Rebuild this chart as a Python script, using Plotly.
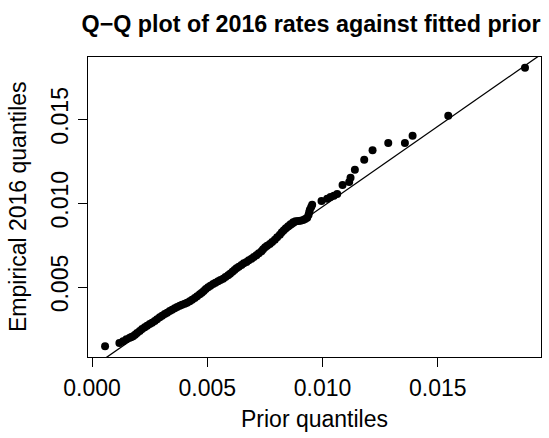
import plotly.graph_objects as go

# Prior (theoretical) quantiles
prior_q = [
    0.000566, 0.001188, 0.001347, 0.001492, 0.001636, 0.001709,
    0.001781, 0.001868, 0.001955, 0.002070, 0.002172, 0.002287, 0.002389,
    0.002504, 0.002606, 0.002721, 0.002823, 0.002938, 0.003040, 0.003155,
    0.003257, 0.003372, 0.003474, 0.003589, 0.003691, 0.003806, 0.003908,
    0.004023, 0.004125, 0.004240, 0.004342, 0.004457, 0.004559, 0.004674,
    0.004761, 0.004848, 0.004935, 0.005036, 0.005137, 0.005253, 0.005354,
    0.005470, 0.005572, 0.005687, 0.005789, 0.005904, 0.005991, 0.006092,
    0.006179, 0.006266, 0.006367, 0.006483, 0.006584, 0.006700, 0.006801,
    0.006917, 0.007018, 0.007134, 0.007235, 0.007351, 0.007423, 0.007510,
    0.007597, 0.007713, 0.007814, 0.007930, 0.008031, 0.008147, 0.008234,
    0.008320, 0.008407, 0.008508, 0.008610, 0.008725, 0.008827, 0.008942,
    0.009044, 0.009159, 0.009246, 0.009333, 0.009391, 0.009420, 0.009449,
    0.009507, 0.009550,
    0.009955, 0.010201, 0.010346, 0.010491, 0.010635, 0.010867, 0.011156,
    0.011214, 0.011402, 0.011807, 0.012169, 0.012849, 0.013572, 0.013905,
    0.015453, 0.018780,
]

# Empirical 2016 quantiles
empirical_q = [
    0.001464, 0.001663, 0.001762, 0.001881, 0.001981, 0.002020,
    0.002060, 0.002160, 0.002259, 0.002378, 0.002497, 0.002597, 0.002696,
    0.002796, 0.002875, 0.002975, 0.003074, 0.003193, 0.003293, 0.003392,
    0.003471, 0.003571, 0.003650, 0.003730, 0.003809, 0.003889, 0.003949,
    0.004008, 0.004068, 0.004147, 0.004247, 0.004346, 0.004445, 0.004565,
    0.004664, 0.004763, 0.004883, 0.004982, 0.005082, 0.005181, 0.005260,
    0.005340, 0.005419, 0.005499, 0.005598, 0.005698, 0.005797, 0.005916,
    0.006016, 0.006115, 0.006214, 0.006314, 0.006413, 0.006493, 0.006592,
    0.006692, 0.006791, 0.006890, 0.007010, 0.007129, 0.007248, 0.007367,
    0.007467, 0.007566, 0.007685, 0.007825, 0.007964, 0.008123, 0.008262,
    0.008381, 0.008500, 0.008620, 0.008739, 0.008858, 0.008918, 0.008938,
    0.008957, 0.008997, 0.009057, 0.009136, 0.009295, 0.009454, 0.009613,
    0.009772, 0.009912,
    0.010130, 0.010269, 0.010369, 0.010448, 0.010548, 0.011084, 0.011263,
    0.011522, 0.011999, 0.012595, 0.013152, 0.013589, 0.013589, 0.014026,
    0.015219, 0.018081,
]

# Reference line (intercept, slope)
line_intercept = 0.000202
line_slope = 0.9585
line_x = [-0.001, 0.021]
line_y = [line_intercept + line_slope * v for v in line_x]

x_ticks = [0.0, 0.005, 0.010, 0.015]
x_tick_labels = ["0.000", "0.005", "0.010", "0.015"]
y_ticks = [0.005, 0.010, 0.015]
y_tick_labels = ["0.005", "0.010", "0.015"]

FONT = "Liberation Sans, Arial, Helvetica, sans-serif"
FS = 23

fig = go.Figure()
fig.add_trace(go.Scatter(
    x=line_x, y=line_y, mode="lines",
    line=dict(color="black", width=1.3), hoverinfo="skip", showlegend=False,
))
fig.add_trace(go.Scatter(
    x=prior_q, y=empirical_q, mode="markers",
    marker=dict(color="black", size=8, line=dict(width=0)),
    showlegend=False,
))

axis_common = dict(
    showgrid=False, zeroline=False, showline=True, mirror=True,
    linecolor="black", linewidth=1, ticks="outside", ticklen=9,
    tickwidth=1, tickcolor="black",
    tickfont=dict(family=FONT, size=FS, color="black"),
)

fig.update_layout(
    width=549, height=438,
    margin=dict(l=88, r=8, t=57, b=81),
    paper_bgcolor="white", plot_bgcolor="white",
    font=dict(family=FONT, color="black"),
    title=dict(
        text="<b>Q\u2212Q plot of 2016 rates against fitted prior</b>",
        font=dict(family=FONT, size=23.3, color="black"),
        x=(311 - 88) / 453, xref="paper", xanchor="center",
        y=1 - 24 / 438, yref="container", yanchor="middle",
    ),
    xaxis=dict(
        range=[-0.000174, 0.019475],
        tickvals=x_ticks, ticktext=x_tick_labels,
        ticklabelstandoff=1,
        **axis_common,
    ),
    yaxis=dict(
        range=[0.000826, 0.018715],
        tickvals=y_ticks, ticktext=y_tick_labels,
        tickangle=-90, ticklabelstandoff=1,
        **axis_common,
    ),
    annotations=[
        dict(text="Prior quantiles", xref="paper", yref="paper",
             x=0.5, y=-(419 - 357) / 300, xanchor="center", yanchor="middle",
             showarrow=False, font=dict(family=FONT, size=FS, color="black")),
        dict(text="Empirical 2016 quantiles", xref="paper", yref="paper",
             x=(18 - 88) / 453, y=0.5, xanchor="center", yanchor="middle",
             textangle=-90, showarrow=False,
             font=dict(family=FONT, size=FS, color="black")),
    ],
)

fig.write_html(
    "out.html",
    config={"displayModeBar": False},
    post_script="document.body.style.margin='0';document.body.style.padding='0';",
)
